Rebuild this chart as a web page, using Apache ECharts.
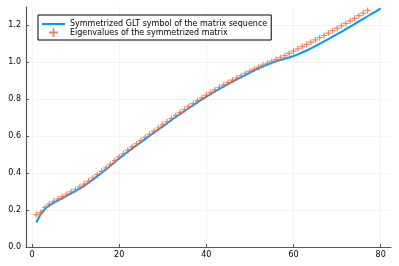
<!DOCTYPE html>
<html>
<head>
<meta charset="utf-8">
<script src="https://cdn.jsdelivr.net/npm/echarts@6/dist/echarts.min.js"></script>
<style>
html,body{margin:0;padding:0;background:#fff;}
#c{width:399px;height:266px;}
</style>
</head>
<body>
<div id="c"></div>
<script>
// Symmetrized GLT symbol, n = 1..80
const symbolValues = [
  0.132, 0.178, 0.207, 0.225, 0.240, 0.252, 0.264, 0.277, 0.290, 0.303,
  0.317, 0.332, 0.348, 0.365, 0.383, 0.401, 0.420, 0.439, 0.459, 0.479,
  0.497, 0.515, 0.533, 0.550, 0.567, 0.584, 0.601, 0.618, 0.635, 0.652,
  0.669, 0.686, 0.703, 0.719, 0.735, 0.751, 0.767, 0.783, 0.798, 0.813,
  0.827, 0.841, 0.855, 0.868, 0.881, 0.894, 0.906, 0.918, 0.930, 0.943,
  0.955, 0.966, 0.976, 0.986, 0.995, 1.003, 1.010, 1.017, 1.024, 1.032,
  1.041, 1.051, 1.062, 1.073, 1.085, 1.098, 1.111, 1.124, 1.137, 1.150,
  1.163, 1.177, 1.191, 1.205, 1.219, 1.233, 1.247, 1.261, 1.275, 1.290
];
// Eigenvalues of the symmetrized matrix, n = 1..77
const eigenValues = [
  0.175, 0.186, 0.214, 0.232, 0.247, 0.260, 0.272, 0.285, 0.298, 0.311,
  0.325, 0.340, 0.356, 0.373, 0.391, 0.409, 0.428, 0.447, 0.467, 0.487,
  0.505, 0.523, 0.541, 0.558, 0.575, 0.592, 0.609, 0.626, 0.643, 0.660,
  0.677, 0.694, 0.711, 0.727, 0.743, 0.759, 0.775, 0.791, 0.806, 0.821,
  0.835, 0.849, 0.863, 0.876, 0.889, 0.902, 0.914, 0.926, 0.938, 0.950,
  0.961, 0.972, 0.983, 0.993, 1.003, 1.013, 1.023, 1.034, 1.046, 1.059,
  1.071, 1.083, 1.095, 1.107, 1.119, 1.131, 1.143, 1.156, 1.169, 1.182,
  1.195, 1.208, 1.222, 1.236, 1.250, 1.264, 1.278
];
const xTicks = [0, 20, 40, 60, 80];
const yTicks = [0, 0.2, 0.4, 0.6, 0.8, 1.0, 1.2];
const lineName = 'Symmetrized GLT symbol of the matrix sequence';
const scatterName = 'Eigenvalues of the symmetrized matrix';

const lineData = symbolValues.map((v, i) => [i + 1, v]);
const scatterData = eigenValues.map((v, i) => [i + 1, v]);

const FONT = 'DejaVu Sans';
const plusPath = 'path://M4,0H6V4H10V6H6V10H4V6H0V4H4Z';

const chart = echarts.init(document.getElementById('c'), null, {renderer: 'canvas'});
chart.setOption({
  animation: false,
  backgroundColor: '#ffffff',
  grid: {left: 26, right: 8, top: 7, bottom: 19, containLabel: false},
  legend: {
    left: 38, top: 15,
    orient: 'vertical',
    backgroundColor: '#ffffff',
    borderColor: '#000000', borderWidth: 1,
    padding: [5, 4, 3, 4],
    itemGap: 0,
    itemWidth: 23, itemHeight: 9,
    textStyle: {fontFamily: FONT, fontSize: 8, color: '#000'},
    data: [
      {name: lineName, icon: 'path://M0,0H23V2H0Z'},
      {name: scatterName, icon: plusPath}
    ]
  },
  xAxis: {
    type: 'value', min: -1.37, max: 82.37,
    axisLine: {show: true, onZero: false, lineStyle: {color: '#555', width: 1.2}},
    axisTick: {show: true, inside: true, length: 3, customValues: xTicks, lineStyle: {color: '#555'}},
    axisLabel: {customValues: xTicks, fontFamily: FONT, fontSize: 8, color: '#000', margin: 4,
      formatter: v => String(v)},
    splitLine: {show: true, lineStyle: {color: '#ebebeb', width: 0.6}}
  },
  yAxis: {
    type: 'value', min: 0, max: 1.297,
    axisLine: {show: true, onZero: false, lineStyle: {color: '#555', width: 1.2}},
    axisTick: {show: true, inside: true, length: 3, customValues: yTicks, lineStyle: {color: '#555'}},
    axisLabel: {customValues: yTicks, fontFamily: FONT, fontSize: 8, color: '#000', margin: 5,
      formatter: v => v.toFixed(1)},
    splitLine: {show: true, lineStyle: {color: '#ebebeb', width: 0.6}}
  },
  series: [
    {
      name: lineName, type: 'line', data: lineData,
      showSymbol: false, symbol: 'none',
      lineStyle: {color: '#009AFA', width: 2},
      itemStyle: {color: '#009AFA'},
      z: 2
    },
    {
      name: scatterName, type: 'scatter', data: scatterData,
      symbol: plusPath, symbolSize: 6,
      itemStyle: {color: '#E36F47', opacity: 0.85},
      z: 3
    }
  ]
});
</script>
</body>
</html>
